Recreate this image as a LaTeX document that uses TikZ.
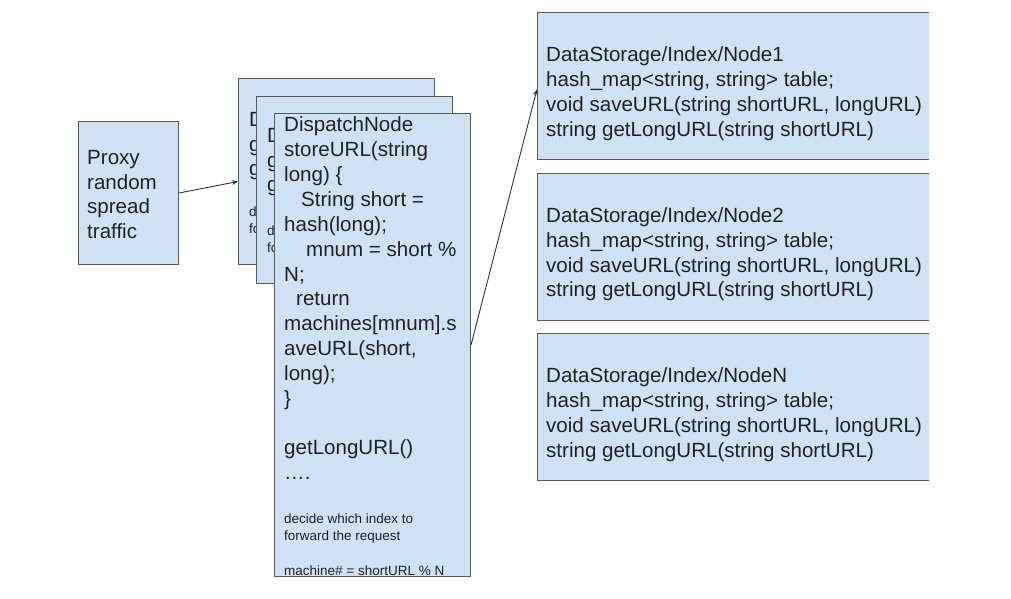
\documentclass[tikz,border=0pt]{standalone}
\usepackage{fontspec}
\setmainfont{Liberation Sans}
\usetikzlibrary{arrows.meta,calc}
\definecolor{boxfill}{HTML}{CFE2F3}
\definecolor{boxline}{HTML}{595959}
\definecolor{txt}{HTML}{222222}
\definecolor{arr}{HTML}{333333}
\begin{document}
\begin{tikzpicture}[x=1pt,y=-1pt,
  box/.style={rectangle, fill=boxfill, draw=boxline, line width=1pt, inner sep=0pt, anchor=north west},
  openbox/.style={rectangle, fill=boxfill, inner sep=0pt, anchor=north west, minimum width=392pt, minimum height=147pt},
  boxedge/.style={draw=boxline, line width=1pt},
  bigtext/.style={anchor=north west, inner sep=0pt, align=left, text=txt, font=\fontsize{20.55}{24.85}\selectfont},
  proxytext/.style={anchor=north west, inner sep=0pt, align=left, text=txt, font=\fontsize{20.55}{24.5}\selectfont},
  smalltext/.style={anchor=north west, inner sep=0pt, align=left, text=txt, font=\fontsize{13.5}{17.4}\selectfont},
  conn/.style={draw=arr, line width=0.9pt, -{Stealth[length=6pt,width=5pt]}}
]
\useasboundingbox[fill=white] (0,0) rectangle (1011,598);

% Proxy
\node[box, minimum width=100pt, minimum height=143pt] (proxy) at (78,121) {};
\node[proxytext] (proxyt) at (87,148.3) {\rule{0pt}{16pt}Proxy\\random\\spread\\traffic};

% back dispatch box A (only the visible fragments of its text)
\node[box, minimum width=196pt, minimum height=186pt] (dA) at (238,78) {};
\node[bigtext] (dAt) at (249,110) {\rule{0pt}{16pt}D\\g\\g};
\node[smalltext] (dAs) at (249,205) {\rule{0pt}{11pt}d\\fo};

% back dispatch box B
\node[box, minimum width=196pt, minimum height=187pt] (dB) at (256,96) {};
\node[bigtext] (dBt) at (267,126) {\rule{0pt}{16pt}D\\g\\g};
\node[smalltext] (dBs) at (267,224) {\rule{0pt}{11pt}d\\fo};

% front dispatch box
\node[box, minimum width=196pt, minimum height=463pt] (dC) at (274,113) {};
\node[bigtext] (dCt) at (284,115.7) {\rule{0pt}{16pt}DispatchNode\\
storeURL(string\\
long) \{\\
\hspace*{17pt}String short =\\
hash(long);\\
\hspace*{22pt}mnum = short \%\\
N;\\
\hspace*{12pt}return\\
machines[mnum].s\\
aveURL(short,\\
long);\\
\}\\
\mbox{}\\
getLongURL()\\
….};
\node[smalltext] (dCs) at (284,512.3) {\rule{0pt}{11pt}decide which index to\\forward the request\\\mbox{}\\machine\# = shortURL \% N};

% storage boxes (cut off at the right edge)
\node[openbox] (s1) at (537,12.5) {};
\node[openbox] (s2) at (537,173) {};
\node[openbox] (s3) at (537,333) {};
\foreach \s in {s1,s2,s3} {
  \draw[boxedge] (\s.north east) -- (\s.north west) -- (\s.south west) -- (\s.south east);
}
\node[bigtext] (s1t) at (546,45.7) {\rule{0pt}{16pt}DataStorage/Index/Node1\\hash\_map<string, string> table;\\void saveURL(string shortURL, longURL)\\string getLongURL(string shortURL)};
\node[bigtext] (s2t) at (546,206.2) {\rule{0pt}{16pt}DataStorage/Index/Node2\\hash\_map<string, string> table;\\void saveURL(string shortURL, longURL)\\string getLongURL(string shortURL)};
\node[bigtext] (s3t) at (546,366.7) {\rule{0pt}{16pt}DataStorage/Index/NodeN\\hash\_map<string, string> table;\\void saveURL(string shortURL, longURL)\\string getLongURL(string shortURL)};

% connectors
\draw[conn] (proxy.east) -- ([yshift=-10pt]dA.west);
\draw[conn] (dC.east) -- ([yshift=-3pt]s1.west);
\end{tikzpicture}
\end{document}
